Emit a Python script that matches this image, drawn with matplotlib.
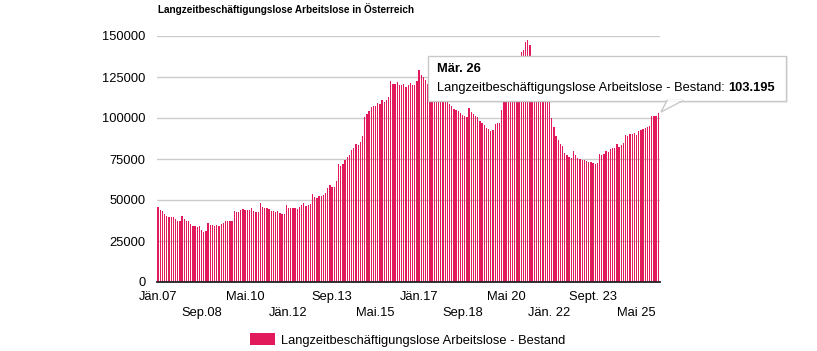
import matplotlib
matplotlib.use('Agg')
import matplotlib.pyplot as plt
from matplotlib.patches import Rectangle, Polygon

plt.rcParams['font.family'] = ['Liberation Sans', 'DejaVu Sans']

# Monthly values, Jän. 2007 .. Mär. 2026
values = [
    # 2007
    45970, 44150, 43550, 41730, 40520, 39920, 39920, 39920, 38110, 36900, 36900, 40520,
    # 2008
    38710, 36900, 36900, 35080, 33870, 33870, 33270, 33870, 31450, 30240, 30850, 35690,
    # 2009
    34480, 34480, 33870, 34480, 33870, 35080, 35690, 36900, 37500, 36900, 36900, 43550,
    # 2010
    42890, 42890, 44110, 44720, 44110, 44110, 44110, 45330, 43500, 42890, 42890, 48370,
    # 2011
    45930, 45330, 45330, 44720, 43500, 43500, 42890, 43500, 42280, 41670, 41670, 47160,
    # 2012
    45330, 45330, 45330, 45330, 44720, 45930, 47160, 48370, 46540, 47160, 47760, 53860,
    # 2013
    52030, 51420, 52640, 52640, 53250, 54470, 57520, 59350, 58130, 58130, 61790, 72150,
    # 2014
    70940, 72150, 74590, 76420, 77640, 80690, 81910, 84350, 83740, 85570, 89230, 100810,
    # 2015
    102640, 104470, 106910, 107520, 107520, 109350, 108740, 111180, 109960, 111180, 113010, 122760,
    # 2016
    120730, 120730, 121950, 120120, 120120, 120730, 118900, 120120, 121340, 120120, 120120, 122560,
    # 2017
    129270, 126220, 125000, 123170, 120700, 118900, 117300, 115800, 114500, 113400, 112300, 116500,
    # 2018
    113800, 110100, 108700, 107500, 105700, 105100, 104500, 103200, 102000, 101400, 100600, 106100,
    # 2019
    103700, 102400, 101200, 100600, 98200, 97000, 95700, 93900, 93300, 92100, 92700, 96300,
    # 2020
    97000, 97000, 104900, 112000, 115500, 118500, 121500, 124500, 127500, 131000, 136000, 140200,
    # 2021
    141200, 146200, 147400, 144500, 137000, 133000, 129500, 126000, 123000, 120000, 117000, 119000,
    # 2022
    111000, 100000, 94500, 89000, 86600, 84100, 82900, 78700, 77400, 76200, 75800, 80100,
    # 2023
    77600, 75800, 75200, 74600, 74600, 74000, 73400, 73400, 72600, 72000, 72600, 78200,
    # 2024
    77600, 78200, 80100, 79500, 81300, 81900, 81900, 84400, 82500, 83500, 84800, 89600,
    # 2025
    89000, 90200, 90200, 90900, 89800, 92100, 92700, 93300, 93900, 94500, 95100, 101200,
    # 2026
    101400, 101400, 103195,
]

tick_idx = [0, 20, 40, 60, 80, 100, 120, 140, 160, 180, 200, 220]
tick_labels = ['Jän.07', 'Sep.08', 'Mai.10', 'Jän.12', 'Sep.13', 'Mai.15',
               'Jän.17', 'Sep.18', 'Mai 20', 'Jän. 22', 'Sept. 23', 'Mai 25']
y_ticks = [0, 25000, 50000, 75000, 100000, 125000, 150000]

series_name = 'Langzeitbeschäftigungslose Arbeitslose - Bestand'
tip_date = 'Mär. 26'
tip_value = '103.195'

W, H = 817, 351
bar_color = '#e2195b'
fs = 9.3

fig = plt.figure(figsize=(W / 100, H / 100), dpi=100)
ax = fig.add_axes([156.5 / W, 1 - 282 / H, (660 - 156.5) / W, (282 - 36) / H])

x = list(range(len(values)))
ax.bar(x, values, width=0.6, color=bar_color, zorder=2, label=series_name)

ax.set_xlim(-0.75, len(values) - 0.2)
ax.set_ylim(0, 150000)
ax.set_yticks(y_ticks)
ax.set_yticklabels([str(v) for v in y_ticks])
ax.yaxis.grid(True, color='#cccccc', linewidth=1)
ax.set_axisbelow(True)

# two rows of month labels
labels2 = [lab if i % 2 == 0 else '\n' + lab for i, lab in enumerate(tick_labels)]
ax.set_xticks(tick_idx)
ax.set_xticklabels(labels2, linespacing=1.45)
ax.tick_params(axis='x', length=0, pad=6.5, labelsize=fs, colors='black')
ax.tick_params(axis='y', length=0, pad=8, labelsize=fs, colors='black')

for s in ['top', 'right', 'left']:
    ax.spines[s].set_visible(False)
ax.spines['bottom'].set_color('#222222')
ax.spines['bottom'].set_linewidth(1.3)
ax.spines['bottom'].set_zorder(3)

fig.text(158 / W, 1 - 3 / H, 'Langzeitbeschäftigungslose Arbeitslose in Österreich',
         fontsize=7.2, fontweight='bold', ha='left', va='top')

fig.legend(loc='center', bbox_to_anchor=(407.5 / W, 1 - 340 / H), frameon=False,
           fontsize=fs, handlelength=2.0, handleheight=1.0, handletextpad=0.45,
           borderpad=0)

# tooltip box
def fx(px):
    return px / W

def fy(py):
    return 1 - py / H

shadow = Rectangle((fx(430), fy(103)), fx(786) - fx(428), fy(56) - fy(103),
                   transform=fig.transFigure, facecolor='#000000', alpha=0.06,
                   edgecolor='none', zorder=5)
fig.add_artist(shadow)
box = Rectangle((fx(428), fy(101)), fx(786) - fx(428), fy(56) - fy(101),
                transform=fig.transFigure, facecolor='white', edgecolor='#c8c8c8',
                linewidth=1, zorder=6)
fig.add_artist(box)
pointer = Polygon([(fx(667), fy(100.5)), (fx(683), fy(100.5)), (fx(661), fy(112))],
                  closed=True, transform=fig.transFigure, facecolor='white',
                  edgecolor='#c8c8c8', linewidth=1, zorder=6)
fig.add_artist(pointer)
cover = Rectangle((fx(667.8), fy(101.5)), fx(682) - fx(667.8), 1.5 / H,
                  transform=fig.transFigure, facecolor='white', edgecolor='none', zorder=7)
fig.add_artist(cover)

fig.text(fx(437), fy(69), tip_date, fontsize=fs, fontweight='bold',
         ha='left', va='center', zorder=8)
t1 = fig.text(fx(437), fy(88), series_name + ': ', fontsize=fs,
              ha='left', va='center', zorder=8)
fig.canvas.draw()
bb = t1.get_window_extent(renderer=fig.canvas.get_renderer())
fig.text(bb.x1 / W, fy(88), tip_value, fontsize=fs, fontweight='bold',
         ha='left', va='center', zorder=8)

fig.savefig('out.png', dpi=100)
